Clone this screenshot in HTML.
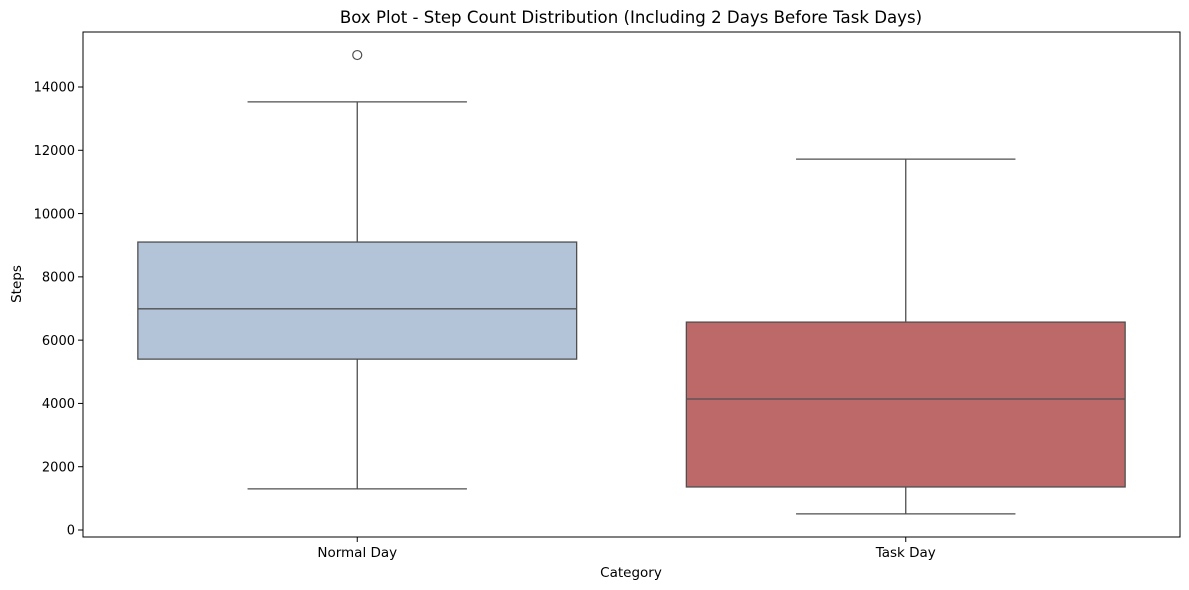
<!DOCTYPE html>
<html><head><meta charset="utf-8"><style>
body{margin:0;background:#fff;}
svg{display:block;font-family:"DejaVu Sans","Liberation Sans",sans-serif;}
</style></head><body>
<svg id="chart" width="1189" height="590">
<text x="631" y="23" font-size="16.6" text-anchor="middle" fill="#000">Box Plot - Step Count Distribution (Including 2 Days Before Task Days)</text>
<g id="yticks"></g>
<g id="xticks"></g>
<g id="boxes"></g>
<rect x="83" y="32" width="1097" height="505" fill="none" stroke="#000" stroke-width="1"/>
<text x="631" y="577" font-size="13.5" text-anchor="middle">Category</text>
<text x="21" y="284" font-size="13.5" text-anchor="middle" transform="rotate(-90 21 284)">Steps</text>
</svg>
<script>
const categories = ["Normal Day", "Task Day"];
const whiskerLow = [1300, 510];
const q1 = [5400, 1360];
const medians = [6990, 4140];
const q3 = [9100, 6570];
const whiskerHigh = [13530, 11720];
const outliers = [[15010], []];
const fills = ["#b3c4d8", "#bd696a"];
const yTicks = [0, 2000, 4000, 6000, 8000, 10000, 12000, 14000];

const NS = "http://www.w3.org/2000/svg";
const L = 83, R = 1180;
const y = v => 530 - v * (530 - 87) / 14000;
const band = (R - L) / categories.length;
const xc = i => L + band * (i + 0.5);
const boxW = band * 0.8;
function mk(tag, attrs, parent) {
  const e = document.createElementNS(NS, tag);
  for (const k in attrs) e.setAttribute(k, attrs[k]);
  parent.appendChild(e);
  return e;
}
const yg = document.getElementById("yticks");
yTicks.forEach(t => {
  const l = mk("line", {x1: L - 5, x2: L, y1: y(t), y2: y(t), stroke: "#000"}, yg);
  
  
  const tx = mk("text", {x: L - 8, y: y(t) + 4.7, "font-size": 13, "text-anchor": "end"}, yg);
  tx.textContent = t;
  
  
});
const xg = document.getElementById("xticks");
categories.forEach((c, i) => {
  const l = mk("line", {x1: xc(i), x2: xc(i), y1: 537, y2: 542, stroke: "#000"}, xg);
  
  
  const tx = mk("text", {x: xc(i), y: 557, "font-size": 13.5, "text-anchor": "middle"}, xg);
  tx.textContent = c;
  
  
});
const bg = document.getElementById("boxes");
const sc = "#4f4f4f";
categories.forEach((c, i) => {
  const cx = xc(i);
  const g = mk("g", {}, bg);
  
  
  mk("line", {x1: cx, x2: cx, y1: y(q3[i]), y2: y(whiskerHigh[i]), stroke: sc, "stroke-width": 1.3}, g);
  mk("line", {x1: cx, x2: cx, y1: y(q1[i]), y2: y(whiskerLow[i]), stroke: sc, "stroke-width": 1.3}, g);
  mk("line", {x1: cx - boxW / 4, x2: cx + boxW / 4, y1: y(whiskerHigh[i]), y2: y(whiskerHigh[i]), stroke: sc, "stroke-width": 1.3}, g);
  mk("line", {x1: cx - boxW / 4, x2: cx + boxW / 4, y1: y(whiskerLow[i]), y2: y(whiskerLow[i]), stroke: sc, "stroke-width": 1.3}, g);
  mk("rect", {x: cx - boxW / 2, y: y(q3[i]), width: boxW, height: y(q1[i]) - y(q3[i]), fill: fills[i], stroke: sc, "stroke-width": 1.3}, g);
  mk("line", {x1: cx - boxW / 2, x2: cx + boxW / 2, y1: y(medians[i]), y2: y(medians[i]), stroke: sc, "stroke-width": 1.3}, g);
  outliers[i].forEach(o => {
    const p = mk("circle", {cx: cx, cy: y(o), r: 4.5, fill: "none", stroke: sc, "stroke-width": 1.2}, g);
    
    
  });
});
</script>
</body></html>
